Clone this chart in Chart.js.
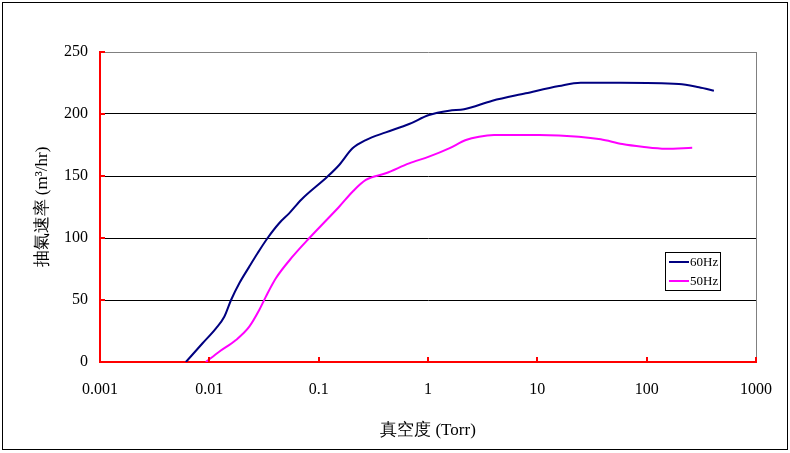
<!DOCTYPE html>
<html>
<head>
<meta charset="utf-8">
<script src="https://cdn.jsdelivr.net/npm/chart.js@4"></script>
<style>
html,body{margin:0;padding:0;background:#fff;}
#wrap{width:790px;height:453px;position:relative;}
</style>
</head>
<body>
<div id="wrap"><canvas id="c" width="790" height="453"></canvas></div>
<script>
// Data
const seriesNames = ['60Hz', '50Hz'];
const pressure60 = [0.0061, 0.00867, 0.0115, 0.0137, 0.0158, 0.0188, 0.0232, 0.0276, 0.0340, 0.0435, 0.0537, 0.0700, 0.120, 0.154, 0.204, 0.270, 0.411, 0.672, 1.02, 1.56, 2.14, 3.88, 7.83, 15.8, 24.9, 57.8, 197, 301, 412];
const speed60    = [0,      15.1,    27.2,   36.5,   50,     63.5,   76.9,   87.7,   99.8,   111.9,  119.9,  131.3,  149.4, 158.9, 172.3, 179,   185.2, 191.9, 199.2, 202.7, 203.8, 210.7, 216.7, 222.6, 225.3, 225.3, 224.2, 221.5, 218.8];
const pressure50 = [0.0093, 0.0123, 0.0175, 0.0232, 0.0286, 0.0329, 0.0406, 0.0576, 0.0818, 0.118, 0.154, 0.204, 0.270, 0.411, 0.672, 1.02, 1.56, 2.22, 2.93, 4.02, 10.4, 24, 38, 59.8, 91, 149, 261];
const speed50    = [0,      8.3,    17.7,   28.5,   41.9,   52.7,   67.5,   84.9,   99.8,   114.5, 125.2, 137.3, 146.8, 152.2, 160.2, 165.6, 172.3, 179, 181.7, 183, 183, 181.7, 179.6, 175.8, 173.6, 172, 172.8];
const xTickValues = [0.001, 0.01, 0.1, 1, 10, 100, 1000];
const xTickLabels = ['0.001', '0.01', '0.1', '1', '10', '100', '1000'];
const yTickValues = [0, 50, 100, 150, 200, 250];
const xTitle = '真空度 (Torr)';
const yTitle = '抽氣速率 (m³/hr)';

const colors = ['#000080', '#FF00FF'];
const SERIF = '"Liberation Serif", "Times New Roman", serif';

function pts(xs, ys){ return xs.map((x,i)=>({x:x, y:ys[i]})); }

const decor = {
  id: 'decor',
  beforeDraw(chart){
    const ctx = chart.ctx;
    ctx.save();
    ctx.fillStyle = '#fff';
    ctx.fillRect(0,0,chart.width,chart.height);
    ctx.restore();
  },
  afterDraw(chart){
    const ctx = chart.ctx, a = chart.chartArea;
    const xs = chart.scales.x, ys = chart.scales.y;
    ctx.save();
    // right border of plot area
    ctx.strokeStyle = '#808080';
    ctx.lineWidth = 1;
    ctx.beginPath();
    ctx.moveTo(Math.round(a.right)+0.5, a.top);
    ctx.lineTo(Math.round(a.right)+0.5, a.bottom);
    ctx.stroke();
    // red inward tick marks
    ctx.strokeStyle = '#FF0000';
    ctx.lineWidth = 2;
    ctx.beginPath();
    yTickValues.forEach(v=>{
      const py = Math.round(ys.getPixelForValue(v));
      ctx.moveTo(a.left, py); ctx.lineTo(a.left+5, py);
    });
    xTickValues.forEach(v=>{
      const px = Math.round(xs.getPixelForValue(v));
      ctx.moveTo(px, a.bottom); ctx.lineTo(px, a.bottom-5);
    });
    ctx.stroke();
    // legend box
    const lx = 665.5, ly = 252.5, lw = 55, lh = 38;
    ctx.fillStyle = '#fff';
    ctx.fillRect(lx, ly, lw, lh);
    ctx.strokeStyle = '#000';
    ctx.lineWidth = 1;
    ctx.strokeRect(lx, ly, lw, lh);
    ctx.font = '13px ' + SERIF;
    ctx.textBaseline = 'middle';
    ctx.textAlign = 'left';
    chart.data.datasets.forEach((ds, i)=>{
      const yy = 262 + i*19;
      ctx.strokeStyle = ds.borderColor;
      ctx.lineWidth = 2;
      ctx.beginPath();
      ctx.moveTo(669, yy); ctx.lineTo(689, yy);
      ctx.stroke();
      ctx.fillStyle = '#000';
      ctx.fillText(ds.label, 690, yy+1);
    });
    // outer frame
    ctx.strokeStyle = '#000';
    ctx.lineWidth = 1;
    ctx.strokeRect(2.5, 2.5, 785, 447);
    ctx.restore();
  }
};

new Chart(document.getElementById('c'), {
  type: 'line',
  data: {
    datasets: [
      {label: seriesNames[0], data: pts(pressure60, speed60), borderColor: colors[0], backgroundColor: colors[0], borderWidth: 2, pointRadius: 0, cubicInterpolationMode: 'monotone', fill: false},
      {label: seriesNames[1], data: pts(pressure50, speed50), borderColor: colors[1], backgroundColor: colors[1], borderWidth: 2, pointRadius: 0, cubicInterpolationMode: 'monotone', fill: false}
    ]
  },
  options: {
    responsive: false,
    animation: false,
    layout: {padding: {left: 0, top: 52, right: 33, bottom: 0}},
    plugins: {legend: {display: false}, tooltip: {enabled: false}},
    scales: {
      x: {
        type: 'logarithmic',
        min: 0.001, max: 1000,
        afterBuildTicks(scale){ scale.ticks = xTickValues.map(v=>({value: v})); },
        afterFit(scale){ scale.height = 91; },
        ticks: {
          autoSkip: false, maxRotation: 0, padding: 18,
          font: {family: SERIF, size: 16}, color: '#000',
          callback(v){ const i = xTickValues.indexOf(v); return i >= 0 ? xTickLabels[i] : ''; }
        },
        grid: {display: false, drawTicks: false},
        border: {display: true, color: '#FF0000', width: 2},
        title: {display: true, text: xTitle, font: {family: SERIF, size: 17}, color: '#000', padding: {top: 0, bottom: 12}}
      },
      y: {
        min: 0, max: 250,
        afterBuildTicks(scale){ scale.ticks = yTickValues.map(v=>({value: v})); },
        afterFit(scale){ scale.width = 100; },
        ticks: {padding: 12, font: {family: SERIF, size: 16}, color: '#000'},
        grid: {
          drawTicks: false,
          lineWidth: 1,
          color(ctx){ const v = ctx.tick && ctx.tick.value; if (v === 250) return '#808080'; if (v === 0) return 'rgba(0,0,0,0)'; return '#000'; }
        },
        border: {display: true, color: '#FF0000', width: 2},
        title: {display: true, text: yTitle, font: {family: SERIF, size: 17}, color: '#000', padding: {top: 32, bottom: 0}}
      }
    }
  },
  plugins: [decor]
});
</script>
</body>
</html>
